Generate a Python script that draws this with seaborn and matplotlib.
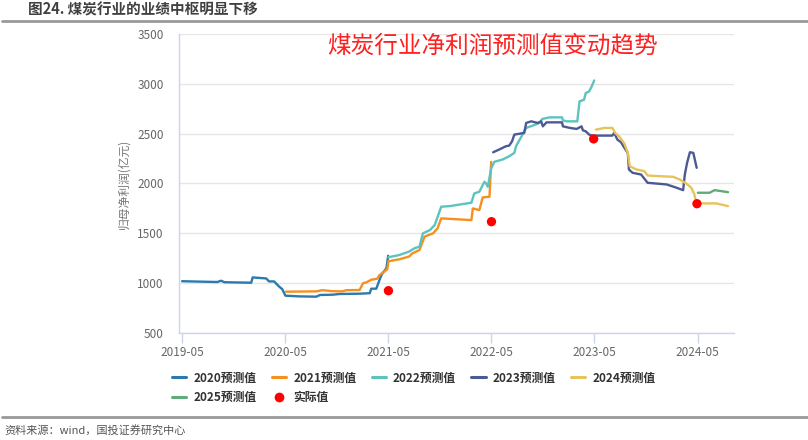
# -*- coding: utf-8 -*-
"""
煤炭行业净利润预测值变动趋势 (图24).
"""

import matplotlib.dates as mdates
import matplotlib.pyplot as plt
import pandas as pd
import seaborn as sns
from matplotlib.lines import Line2D


# =========================
# 1. DADOS
# =========================

datas_2020 = ["2019-05-01", "2019-09-03", "2019-09-16", "2019-09-28", "2020-01-01",
              "2020-01-06", "2020-02-23", "2020-03-04", "2020-03-22", "2020-04-09",
              "2020-04-20", "2020-05-01", "2020-06-19", "2020-08-18", "2020-09-01",
              "2020-10-16", "2020-11-09", "2021-01-19", "2021-02-24", "2021-03-01",
              "2021-03-19", "2021-04-03", "2021-04-10", "2021-04-24", "2021-04-30"]
valores_2020 = [1020, 1012, 1025, 1010, 1005,
                1058, 1048, 1018, 1018, 966,
                940, 875, 868, 865, 882,
                885, 892, 895, 900, 945,
                945, 1060, 1100, 1150, 1275]

datas_2021 = ["2020-05-03", "2020-08-18", "2020-09-09", "2020-10-15", "2020-11-19",
              "2020-12-03", "2021-01-19", "2021-01-31", "2021-02-13", "2021-03-01",
              "2021-03-22", "2021-03-30", "2021-04-13", "2021-04-27", "2021-05-01",
              "2021-06-09", "2021-07-13", "2021-07-25", "2021-08-19", "2021-09-06",
              "2021-10-06", "2021-10-22", "2021-11-04", "2022-02-19", "2022-02-24",
              "2022-03-19", "2022-03-31", "2022-04-24", "2022-04-30"]
valores_2021 = [915, 918, 930, 920, 918,
                930, 932, 1000, 1010, 1035,
                1045, 1080, 1110, 1140, 1220,
                1240, 1267, 1300, 1333, 1467,
                1500, 1550, 1650, 1633, 1750,
                1733, 1860, 1867, 2217]

datas_2022 = ["2021-05-01", "2021-06-09", "2021-07-13", "2021-08-01", "2021-08-19",
              "2021-08-31", "2021-09-25", "2021-10-12", "2021-11-04", "2021-12-04",
              "2022-01-18", "2022-02-19", "2022-03-01", "2022-03-19", "2022-04-06",
              "2022-04-12", "2022-04-18", "2022-04-30", "2022-05-11", "2022-06-09",
              "2022-07-03", "2022-07-21", "2022-07-27", "2022-09-01", "2022-09-24",
              "2022-10-18", "2022-10-28", "2022-11-23", "2023-01-06", "2023-01-09",
              "2023-01-23", "2023-03-01", "2023-03-09", "2023-03-25", "2023-03-31",
              "2023-04-12", "2023-04-21", "2023-04-30"]
valores_2022 = [1260, 1283, 1317, 1350, 1367,
                1500, 1533, 1583, 1767, 1773,
                1793, 1807, 1900, 1917, 2017,
                2000, 1967, 2150, 2217, 2240,
                2273, 2307, 2373, 2557, 2580,
                2607, 2647, 2663, 2663, 2633,
                2623, 2623, 2823, 2840, 2907,
                2923, 2973, 3033]

datas_2023 = ["2022-05-07", "2022-05-28", "2022-06-21", "2022-07-03", "2022-07-13",
              "2022-07-21", "2022-08-25", "2022-09-01", "2022-09-19", "2022-10-12",
              "2022-10-24", "2022-10-30", "2022-11-12", "2023-01-06", "2023-01-09",
              "2023-02-03", "2023-02-27", "2023-03-16", "2023-03-21", "2023-03-31",
              "2023-04-12", "2023-04-23", "2023-07-03", "2023-07-10", "2023-07-21",
              "2023-08-03", "2023-08-15", "2023-08-27", "2023-08-31", "2023-09-13",
              "2023-10-13", "2023-10-25", "2023-11-05", "2024-01-12", "2024-02-16",
              "2024-03-10", "2024-03-16", "2024-03-24", "2024-04-03", "2024-04-15",
              "2024-04-27"]
valores_2023 = [2313, 2340, 2373, 2380, 2423,
                2490, 2507, 2607, 2623, 2607,
                2623, 2573, 2613, 2613, 2573,
                2557, 2547, 2573, 2533, 2523,
                2490, 2480, 2480, 2507, 2440,
                2413, 2357, 2307, 2140, 2107,
                2090, 2047, 2007, 1990, 1957,
                1933, 2090, 2207, 2313, 2307,
                2157]

datas_2024 = ["2023-05-06", "2023-06-05", "2023-07-04", "2023-07-13", "2023-07-27",
              "2023-08-15", "2023-08-27", "2023-09-03", "2023-09-27", "2023-10-25",
              "2023-11-05", "2023-12-19", "2024-02-04", "2024-02-27", "2024-03-21",
              "2024-04-08", "2024-04-19", "2024-04-25", "2024-05-06", "2024-07-06",
              "2024-08-16"]
valores_2024 = [2540, 2557, 2557, 2507, 2473,
                2400, 2307, 2173, 2140, 2123,
                2080, 2073, 2067, 2040, 2000,
                1957, 1890, 1807, 1800, 1800,
                1773]

datas_2025 = ["2024-05-01", "2024-06-12", "2024-06-29", "2024-07-24", "2024-08-16"]
valores_2025 = [1907, 1907, 1933, 1923, 1913]

datas_real = ["2021-05-01", "2022-05-01", "2023-04-28", "2024-04-28"]
valores_real = [925, 1617, 2447, 1797]

nomes_series = ["2020预测值", "2021预测值", "2022预测值", "2023预测值", "2024预测值", "2025预测值"]
cores_series = ["#2a7aad", "#f5901f", "#5cc3be", "#4b5a93", "#e8c25a", "#62a97c"]

ticks_x = ["2019-05", "2020-05", "2021-05", "2022-05", "2023-05", "2024-05"]


# =========================
# 2. DATAFRAME
# =========================

blocos = []
for nome, datas, valores in zip(
    nomes_series,
    [datas_2020, datas_2021, datas_2022, datas_2023, datas_2024, datas_2025],
    [valores_2020, valores_2021, valores_2022, valores_2023, valores_2024, valores_2025],
):
    blocos.append(pd.DataFrame({"data": pd.to_datetime(datas), "valor": valores, "serie": nome}))

df = pd.concat(blocos, ignore_index=True)
df_real = pd.DataFrame({"data": pd.to_datetime(datas_real), "valor": valores_real})


# =========================
# 3. GRAFICO
# =========================

sns.set_theme(style="white")
plt.rcParams["font.family"] = ["Noto Sans CJK SC", "DejaVu Sans"]

fig = plt.figure(figsize=(8.08, 4.4), dpi=100)
ax = fig.add_axes([0.2215, 0.243, 0.6865, 0.68])

paleta = dict(zip(nomes_series, cores_series))

sns.lineplot(
    data=df, x="data", y="valor", hue="serie", palette=paleta,
    estimator=None, sort=False, linewidth=1.7, legend=False, ax=ax
)
sns.scatterplot(
    data=df_real, x="data", y="valor", color="#ff0000",
    s=45, edgecolor="none", zorder=5, legend=False, ax=ax
)

ax.set_ylim(500, 3500)
ax.set_yticks(range(500, 3501, 500))
ax.set_xlim(pd.Timestamp("2019-04-20"), pd.Timestamp("2024-09-05"))
ax.set_xticks(pd.to_datetime(ticks_x))
ax.xaxis.set_major_formatter(mdates.DateFormatter("%Y-%m"))

ax.grid(axis="y", color="#e6e6e6", linewidth=1)
ax.set_axisbelow(True)
for lado in ["top", "right"]:
    ax.spines[lado].set_visible(False)
for lado in ["left", "bottom"]:
    ax.spines[lado].set_color("#ccd6eb")
    ax.spines[lado].set_linewidth(1)

ax.tick_params(axis="x", colors="#ccd6eb", labelcolor="#666666", labelsize=8.5,
               length=7, width=1, bottom=True, pad=2)
ax.tick_params(axis="y", labelcolor="#666666", labelsize=8.5, length=0, pad=11)

ax.set_xlabel("")
ax.set_ylabel("归母净利润(亿元)", color="#777777", fontsize=8.5, labelpad=5)

ax.text(0.565, 0.96, "煤炭行业净利润预测值变动趋势", transform=ax.transAxes,
        ha="center", va="center", color="#ff2020", fontsize=17)

# legenda: ordem para preencher por coluna
handles = {}
for nome, cor in zip(nomes_series, cores_series):
    handles[nome] = Line2D([0], [0], color=cor, linewidth=2.2)
handles["实际值"] = Line2D([0], [0], marker="o", color="none", markerfacecolor="#ff0000",
                        markeredgecolor="none", markersize=7)
ordem = ["2020预测值", "2025预测值", "2021预测值", "实际值", "2022预测值", "2023预测值", "2024预测值"]

fig.legend(
    [handles[k] for k in ordem], ordem,
    loc="upper left", bbox_to_anchor=(0.2, 0.18), ncol=5, frameon=False,
    handlelength=1.2, handletextpad=0.6, columnspacing=1.3,
    labelspacing=0.55, prop={"size": 8.5, "weight": "bold"}, labelcolor="#333333"
)

# titulo e fonte
fig.text(0.035, 0.978, "图24. 煤炭行业的业绩中枢明显下移", ha="left", va="center",
         fontsize=10.5, fontweight="bold", color="#404040")
fig.add_artist(Line2D([0.003, 1.0], [0.953, 0.953], color="#999999", linewidth=2))
fig.add_artist(Line2D([0.003, 1.0], [0.053, 0.053], color="#999999", linewidth=2))
fig.text(0.006, 0.022, "资料来源：wind，国投证券研究中心", ha="left", va="center",
         fontsize=8, style="italic", color="#555555")

fig.savefig("out.png", dpi=100)
